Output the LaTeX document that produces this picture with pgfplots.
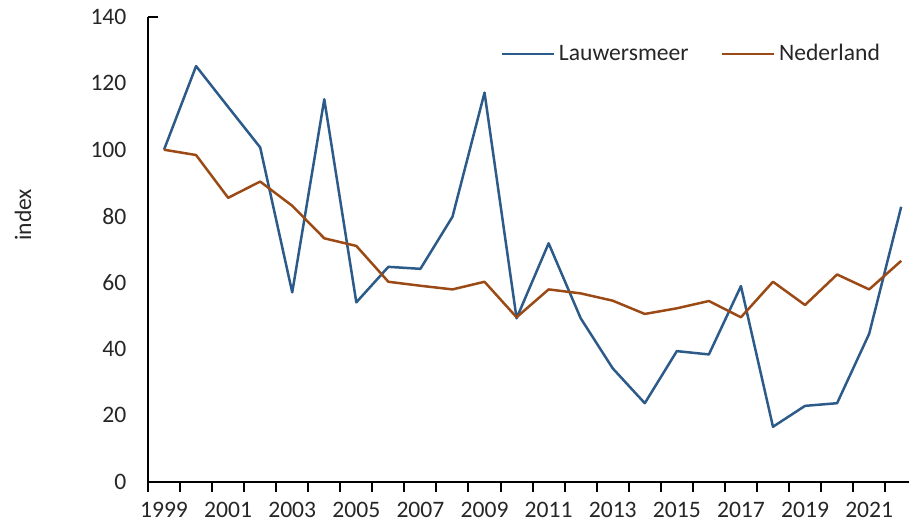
\documentclass[border=0pt]{standalone}
\usepackage{pgfplots}
\pgfplotsset{compat=1.18}
\usepackage{fontspec}
\setmainfont{Carlito}
\definecolor{lblue}{HTML}{2C5B8A}
\definecolor{nbrown}{HTML}{9C4A15}
\definecolor{txt}{HTML}{262626}
\begin{document}
\begin{tikzpicture}
\begin{axis}[
  scale only axis,
  width=380.5pt, height=232.25pt,
  xmin=1998.5, xmax=2022.244,
  ymin=0, ymax=140,
  axis lines=left,
  axis line style={-, line width=1pt, black},
  xtick={1999,2001,...,2021},
  minor xtick={1998.5,1999.5,...,2021.5},
  major x tick style={draw=none},
  minor x tick style={line width=1pt, black},
  minor tick length=5pt,
  tick align=outside,
  ytick={0,20,...,140},
  major y tick style={draw=none},
  extra y ticks={140},
  extra y tick labels={},
  extra y tick style={major y tick style={draw=black, line width=1pt}, major tick length=5pt, tick align=inside},
  xticklabel style={font=\fontsize{11.8}{13}\selectfont, text=txt, yshift=-2.5pt},
  yticklabel style={font=\fontsize{11.8}{13}\selectfont, text=txt, xshift=-3pt},
  /pgf/number format/assume math mode=true,
  xticklabel={\pgfmathprintnumber[1000 sep={}]{\tick}},
  scaled ticks=false,
  ylabel={index},
  ylabel style={at={(axis description cs:-0.1643,0.574)}, anchor=center, font=\fontsize{11.8}{13}\selectfont, text=txt},
  legend columns=2,
  legend cell align=left,
  legend style={draw=none, fill=none, at={(axis description cs:0.4626,0.92)}, anchor=west, font=\fontsize{11.8}{13}\selectfont, text=txt, inner sep=0pt,
    /tikz/every even column/.append style={column sep=14pt}},
  legend image code/.code={\draw[#1] (0pt,0pt) -- (26pt,0pt);},
  clip=false,
]
\addplot[lblue, line width=1.25pt, line join=round] coordinates {
(1999,100) (2000,125.2) (2001,112.9) (2002,100.7) (2003,57.0) (2004,115.2)
(2005,54.0) (2006,64.7) (2007,64.1) (2008,79.8) (2009,117.2) (2010,49.2)
(2011,71.8) (2012,49.2) (2013,34.1) (2014,23.6) (2015,39.3) (2016,38.3)
(2017,58.9) (2018,16.5) (2019,22.8) (2020,23.6) (2021,44.5) (2022,82.8)
};
\addlegendentry{Lauwersmeer}
\addplot[nbrown, line width=1.25pt, line join=round] coordinates {
(1999,100) (2000,98.4) (2001,85.5) (2002,90.4) (2003,83.1) (2004,73.3)
(2005,71.0) (2006,60.2) (2007,59.0) (2008,57.9) (2009,60.2) (2010,49.5)
(2011,57.9) (2012,56.7) (2013,54.5) (2014,50.5) (2015,52.2) (2016,54.4)
(2017,49.5) (2018,60.2) (2019,53.2) (2020,62.4) (2021,57.9) (2022,66.5)
};
\addlegendentry{Nederland}
\end{axis}
\pgfresetboundingbox
\path[use as bounding box] (-74pt,-19.75pt) rectangle (380.5pt,240.75pt);
\end{tikzpicture}
\end{document}
